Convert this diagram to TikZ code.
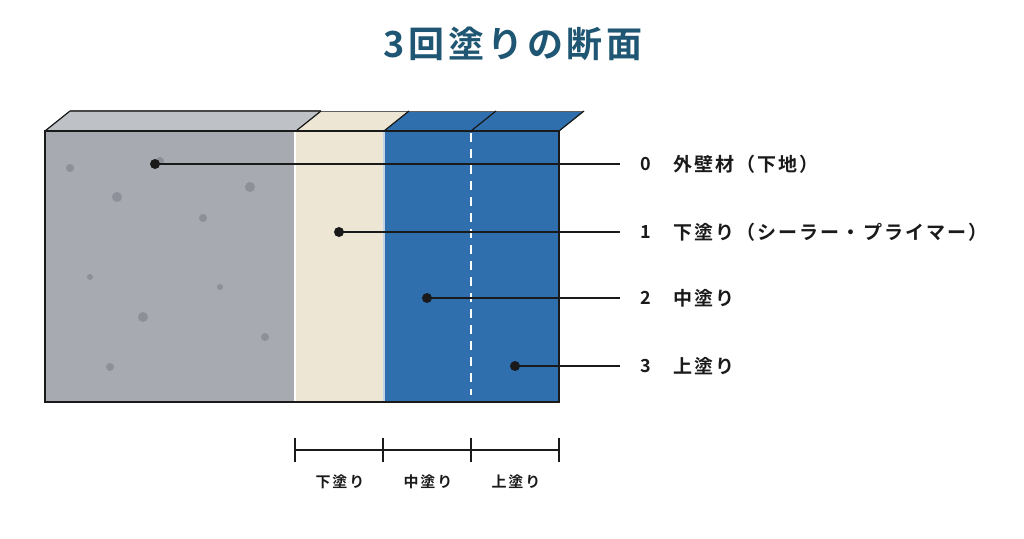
\documentclass[tikz,border=0pt]{standalone}
\usepackage{fontspec}
\usetikzlibrary{calc}
\newfontfamily\jp{Noto Sans CJK JP}[BoldFont={Noto Sans CJK JP Bold}]
\definecolor{titlec}{HTML}{1F5673}
\definecolor{grayfront}{HTML}{A7AAB1}
\definecolor{graytop}{HTML}{BEC1C5}
\definecolor{spot}{HTML}{8E9099}
\definecolor{beige}{HTML}{EDE6D5}
\definecolor{blue}{HTML}{2F6FAD}
\definecolor{ink}{HTML}{1A1A1A}
\begin{document}
\begin{tikzpicture}[x=1pt,y=-1pt,
  edge/.style={draw=ink,line width=1.2pt},
  spotdot/.style={fill=spot,draw=none},
  marker/.style={circle,fill=ink,inner sep=0pt,minimum size=10pt},
  leader/.style={draw=ink,line width=1.5pt},
  lbl/.style={anchor=west,inner sep=0pt,font=\jp\bfseries\fontsize{19}{22}\selectfont\addfontfeature{LetterSpace=11},text=ink},
  num/.style={anchor=center,inner sep=0pt,font=\jp\bfseries\fontsize{18}{20}\selectfont,text=ink},
  small/.style={anchor=center,inner sep=0pt,font=\jp\bfseries\fontsize{15}{17}\selectfont\addfontfeature{LetterSpace=13},text=ink},
  bar/.style={draw=ink,line width=2pt}]
\useasboundingbox (0,0) rectangle (1024,538);
% title
\node[font=\jp\bfseries\fontsize{36}{40}\selectfont\addfontfeature{LetterSpace=10},text=titlec] (title) at (513,44) {3回塗りの断面};
% top faces
\fill[graytop] (45,131) -- (70,111) -- (321,111) -- (296,131) -- cycle;
\fill[beige] (296,131) -- (321,111) -- (409,111) -- (384,131) -- cycle;
\fill[blue] (384,131) -- (409,111) -- (584,111) -- (559,131) -- cycle;
\draw[edge] (45,131) -- (70,111);
\draw[edge,draw=ink!80] (70,111) -- (321,111);
\draw[draw=ink!70,line width=0.8pt] (321,111) -- (409,111);
\draw[draw=ink!70,line width=0.8pt] (409,111) -- (584,111);
\draw[edge] (296,131) -- (321,111);
\draw[edge] (384,131) -- (409,111);
\draw[edge] (471,131) -- (496,111);
\draw[edge] (559,131) -- (584,111);
% front faces
\fill[grayfront] (45,131) rectangle (294,402);
\fill[white] (294,131) rectangle (296,402);
\fill[beige] (296,131) rectangle (383,402);
\fill[blue!30!white] (383,131) rectangle (385,402);
\fill[blue] (385,131) rectangle (559,402);
% spots
\foreach \x/\y/\r in {70/168/4,160/161/4,117/197/5,250/187/5,203/218/4,90/277/3,220/287/3,143/317/5,265/337/4,110/367/4}
  \fill[spotdot] (\x,\y) circle (\r);
% dashed divider
\draw[white,line width=2.8pt,dash pattern=on 9pt off 7pt] (471,133) -- (471,395);
% outline
\draw[ink,line width=2pt] (45,131) rectangle (559,402);
% markers and leaders
\node[marker] (m0) at (155,164) {};
\node[marker] (m1) at (339,232) {};
\node[marker] (m2) at (427,298) {};
\node[marker] (m3) at (515,366) {};
\coordinate (e0) at (620,164);
\coordinate (e1) at (620,232);
\coordinate (e2) at (620,298);
\coordinate (e3) at (620,366);
\draw[leader] (m0.center) -- (e0);
\draw[leader] (m1.center) -- (e1);
\draw[leader] (m2.center) -- (e2);
\draw[leader] (m3.center) -- (e3);
\node[num] (n0) at (646,164) {0};
\node[num] (n1) at (646,232) {1};
\node[num] (n2) at (646,298) {2};
\node[num] (n3) at (646,366) {3};
\node[lbl] (l0) at (673,164) {外壁材（下地）};
\node[lbl] (l1) at (673,232) {下塗り（シーラー・プライマー）};
\node[lbl] (l2) at (673,298) {中塗り};
\node[lbl] (l3) at (673,366) {上塗り};
% scale bar
\coordinate (b0) at (295,450);
\coordinate (b1) at (383,450);
\coordinate (b2) at (471,450);
\coordinate (b3) at (559,450);
\draw[bar] (b0) -- (b3);
\foreach \c in {b0,b1,b2,b3} \draw[bar] ($(\c)+(0,-12)$) -- ($(\c)+(0,12)$);
\node[small] (s1) at (340,482) {下塗り};
\node[small] (s2) at (428,482) {中塗り};
\node[small] (s3) at (516,482) {上塗り};
\end{tikzpicture}
\end{document}
